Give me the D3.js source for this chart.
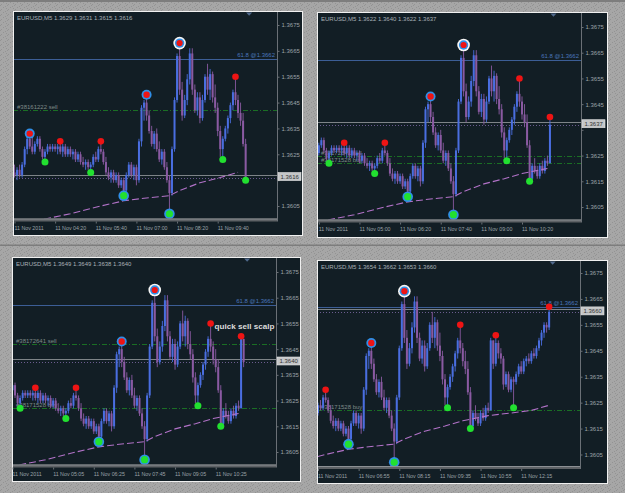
<!DOCTYPE html>
<html><head><meta charset="utf-8">
<script src="https://cdn.jsdelivr.net/npm/d3@7"></script>
<style>
html,body{margin:0;padding:0;background:#a4a4a4;}
svg{display:block;}
</style></head><body>
<script>
// ---------- DATA (EURUSD M5, 11 Nov 2011, bar 0 = 03:00) ----------
const opens = [
1.3618,1.3617,1.3619,1.3617,1.3621,1.3627,1.3631,1.3628,1.3626,1.3629,
1.3631,1.3627,1.3624,1.3626,1.3628,1.3627,1.3628,1.3627,1.3628,1.3626,
1.3628,1.3625,1.3627,1.3625,1.3626,1.3623,1.3625,1.3622,1.3621,1.3622,
1.3620,1.3621,1.3624,1.3623,1.3627,1.3626,1.3622,1.3618,1.3616,1.3618,
1.3615,1.3617,1.3613,1.3615,1.3611,1.3617,1.3621,1.3617,1.3620,1.3615,
1.3630,1.3643,1.3645,1.3640,1.3634,1.3629,1.3633,1.3627,1.3623,1.3626,
1.3620,1.3615,1.3610,1.3627,1.3646,1.3663,1.3650,1.3640,1.3646,1.3654,
1.3664,1.3650,1.3642,1.3647,1.3639,1.3646,1.3655,1.3650,1.3656,1.3647,
1.3643,1.3634,1.3627,1.3631,1.3635,1.3639,1.3644,1.3649,1.3646,1.3641,
1.3638,1.3629,1.3616,1.3621,1.3619,1.3617,1.3621,1.3619,1.3623,1.3622,
1.3649,1.3640,1.3648,1.3644,1.3642,1.3632,1.3636,1.3630,1.3634,1.3633,
1.3636,1.3639,1.3637,1.3641,1.3642,1.3641,1.3644,1.3643,1.3646,1.3649,
1.3652,1.3655,1.3654];
const highs = [
1.3621,1.3620,1.3621,1.3622,1.3628,1.3632,1.3633,1.3632,1.3630,1.3632,
1.3632,1.3628,1.3627,1.3629,1.3629,1.3629,1.3629,1.3629,1.3630,1.3629,
1.3629,1.3628,1.3628,1.3627,1.3627,1.3626,1.3626,1.3624,1.3623,1.3623,
1.3622,1.3625,1.3626,1.3628,1.3630,1.3627,1.3624,1.3620,1.3619,1.3619,
1.3618,1.3618,1.3616,1.3616,1.3618,1.3622,1.3622,1.3621,1.3621,1.3631,
1.3644,1.3646,1.3648,1.3642,1.3636,1.3634,1.3635,1.3630,1.3627,1.3627,
1.3622,1.3617,1.3628,1.3647,1.3664,1.3668,1.3653,1.3648,1.3656,1.3666,
1.3666,1.3652,1.3649,1.3649,1.3648,1.3656,1.3660,1.3658,1.3657,1.3652,
1.3645,1.3636,1.3632,1.3636,1.3640,1.3645,1.3650,1.3655,1.3648,1.3645,
1.3641,1.3631,1.3622,1.3624,1.3621,1.3622,1.3623,1.3624,1.3625,1.3650,
1.3649,1.3651,1.3649,1.3646,1.3643,1.3637,1.3637,1.3635,1.3635,1.3637,
1.3640,1.3641,1.3642,1.3643,1.3644,1.3645,1.3646,1.3647,1.3650,1.3653,
1.3656,1.3656,1.3662];
const lows = [
1.3616,1.3615,1.3616,1.3616,1.3620,1.3625,1.3627,1.3625,1.3625,1.3628,
1.3626,1.3623,1.3622,1.3625,1.3626,1.3626,1.3626,1.3625,1.3625,1.3624,
1.3624,1.3624,1.3624,1.3623,1.3622,1.3622,1.3621,1.3620,1.3619,1.3619,
1.3618,1.3620,1.3622,1.3622,1.3625,1.3621,1.3617,1.3615,1.3614,1.3614,
1.3614,1.3612,1.3612,1.3609,1.3610,1.3616,1.3616,1.3615,1.3613,1.3614,
1.3628,1.3638,1.3638,1.3633,1.3628,1.3627,1.3626,1.3622,1.3621,1.3619,
1.3614,1.3602,1.3609,1.3626,1.3645,1.3648,1.3638,1.3639,1.3644,1.3652,
1.3648,1.3641,1.3640,1.3637,1.3638,1.3645,1.3648,1.3646,1.3645,1.3641,
1.3632,1.3624,1.3623,1.3630,1.3633,1.3637,1.3642,1.3644,1.3639,1.3636,
1.3628,1.3615,1.3615,1.3618,1.3616,1.3616,1.3618,1.3618,1.3621,1.3622,
1.3638,1.3639,1.3642,1.3640,1.3630,1.3631,1.3629,1.3629,1.3623,1.3632,
1.3635,1.3636,1.3636,1.3639,1.3640,1.3640,1.3642,1.3642,1.3645,1.3647,
1.3650,1.3652,1.3653];
const closes = [
1.3617,1.3619,1.3617,1.3621,1.3627,1.3631,1.3628,1.3626,1.3629,1.3631,
1.3627,1.3624,1.3626,1.3628,1.3627,1.3628,1.3627,1.3628,1.3626,1.3628,
1.3625,1.3627,1.3625,1.3626,1.3623,1.3625,1.3622,1.3621,1.3622,1.3620,
1.3621,1.3624,1.3623,1.3627,1.3626,1.3622,1.3618,1.3616,1.3618,1.3615,
1.3617,1.3613,1.3615,1.3611,1.3617,1.3621,1.3617,1.3620,1.3615,1.3630,
1.3643,1.3645,1.3640,1.3634,1.3629,1.3633,1.3627,1.3623,1.3626,1.3620,
1.3615,1.3610,1.3627,1.3646,1.3663,1.3650,1.3640,1.3646,1.3654,1.3664,
1.3650,1.3642,1.3647,1.3639,1.3646,1.3655,1.3650,1.3656,1.3647,1.3643,
1.3634,1.3627,1.3631,1.3635,1.3639,1.3644,1.3649,1.3646,1.3641,1.3638,
1.3629,1.3616,1.3621,1.3619,1.3617,1.3621,1.3619,1.3623,1.3622,1.3649,
1.3640,1.3648,1.3644,1.3642,1.3632,1.3636,1.3630,1.3634,1.3633,1.3636,
1.3639,1.3637,1.3641,1.3642,1.3641,1.3644,1.3643,1.3646,1.3649,1.3652,
1.3655,1.3654,1.3660];

// slow moving average (sampled)
const maBars   = [0, 12, 22, 34, 43, 51, 61, 65, 73, 81, 88, 98, 107, 115, 122];
const maValues = [1.3598,1.3600,1.3602,1.3605,1.3607,1.3608,1.3609,1.3611,1.3614,1.3616,1.3618,1.3620,1.3621,1.3622,1.3624];

// zigzag swing points shared by all four snapshots
const swingBars   = [6, 12, 18, 30, 34, 43, 52, 61, 65, 82, 87, 91];
const swingPrices = [1.3633,1.3622,1.3630,1.3618,1.3630,1.3609,1.3648,1.3602,1.3668,1.3623,1.3655,1.3615];
const swingKinds  = ["R","g","r","g","r","G","R","G","W","g","r","g"];
// swing points that exist only in one snapshot
const extraSwingPanel  = [1, 2, 3, 3, 3];
const extraSwingBars   = [99, 99, 101, 108, 122];
const extraSwingPrices = [1.3640,1.3650,1.3651,1.3623,1.3662];
const extraSwingKinds  = ["r","r","r","g","r"];

// snapshot settings
const panelTitles = [
 "EURUSD,M5  1.3629 1.3631 1.3615 1.3616",
 "EURUSD,M5  1.3622 1.3640 1.3622 1.3637",
 "EURUSD,M5  1.3649 1.3649 1.3638 1.3640",
 "EURUSD,M5  1.3654 1.3662 1.3653 1.3660"];
const panelFirstBar = [0, 8, 9, 31];
const panelLastBar  = [91, 99, 100, 122];
const panelBid      = [1.3616, 1.3637, 1.3640, 1.3660];
const panelTickBars = [[0,16,32,48,64,80],[8,24,40,56,72,88],[9,25,41,57,73,89],[31,47,63,79,95,111]];
const panelTickLabels = [
 ["11 Nov 2011","11 Nov 04:20","11 Nov 05:40","11 Nov 07:00","11 Nov 08:20","11 Nov 09:40"],
 ["11 Nov 2011","11 Nov 05:00","11 Nov 06:20","11 Nov 07:40","11 Nov 09:00","11 Nov 10:20"],
 ["11 Nov 2011","11 Nov 05:05","11 Nov 06:25","11 Nov 07:45","11 Nov 09:05","11 Nov 10:25"],
 ["11 Nov 2011","11 Nov 06:55","11 Nov 08:15","11 Nov 09:35","11 Nov 10:55","11 Nov 12:15"]];
// the still-forming last bar of snapshot 2 (O,H,L,C)
const liveBarPanel = 1, liveBarIndex = 99;
const liveBarOHLC = [1.3622, 1.3640, 1.3622, 1.3637];

const priceTicks = [1.3675,1.3665,1.3655,1.3645,1.3635,1.3625,1.3615,1.3605];
const fibPrice = 1.3662, fibLabel = "61.8  @1.3662";
const tradePanel  = [0, 1, 1, 2, 2, 3];
const tradePrice  = [1.3642, 1.3625, 1.3622, 1.3647, 1.3622, 1.3622];
const tradeLabels = ["#38161222 sell","#38172641 sell","#38171528 buy","#38172641 sell","#38171528 buy","#38171528 buy"];
const noteText = "quick sell scalp", notePanel = 2, noteBar = 87, notePrice = 1.3653;

// ---------- LAYOUT ----------
const W = 625, H = 493;
const layout = [
 {fx:13,  fy:11,  fw:289, fh:224, axisX:277, bottomY:218.5, x0:14.5,  yTop:25,  yBot:206},
 {fx:317, fy:12,  fw:290, fh:225, axisX:581, bottomY:219.5, x0:318.8, yTop:27,  yBot:207},
 {fx:12,  fy:257, fw:288, fh:224, axisX:276, bottomY:464.5, x0:12.5,  yTop:272, yBot:452},
 {fx:317, fy:260, fw:290, fh:223, axisX:580, bottomY:466,   x0:318,   yTop:273, yBot:454.5}
];
const BG = "#121e25", BULL = "#4a6ee0", BEAR = "#8a5aa2", AXC = "#6a7076", TXT = "#9ba2a8";
const FONT = "'Liberation Sans', Arial, sans-serif";

const svg = d3.select("body").append("svg").attr("width", W).attr("height", H);
const defs = svg.append("defs");
const pat = defs.append("pattern").attr("id","speck").attr("width",7).attr("height",5).attr("patternUnits","userSpaceOnUse");
pat.append("rect").attr("width",7).attr("height",5).attr("fill","#a6a6a6");
[[0,0],[3,2],[1,4],[5,1],[6,3]].forEach(([a,b]) => pat.append("rect").attr("x",a).attr("y",b).attr("width",1).attr("height",1).attr("fill","#939393"));
svg.append("rect").attr("width",W).attr("height",H).attr("fill","url(#speck)");
svg.append("rect").attr("x",0).attr("y",0).attr("width",W).attr("height",2).attr("fill","#7d7d7d");
svg.append("rect").attr("x",0).attr("y",244.5).attr("width",W).attr("height",1.5).attr("fill","#7d7d7d");

function marker(g, cx, cy, kind) {
  const c = (r, f) => g.append("circle").attr("cx",cx).attr("cy",cy).attr("r",r).attr("fill",f);
  if (kind === "W") { c(6.3,"#f6f6f6"); c(4.7,"#2f8fe8"); c(3.1,"#ee1414"); }
  else if (kind === "R") { c(5,"#2f8fe8"); c(3.2,"#ee1414"); }
  else if (kind === "G") { c(5.3,"#2f8fe8"); c(3.6,"#22e030"); }
  else if (kind === "r") { c(3.3,"#ee1414"); }
  else { c(3.5,"#22e030"); }
}

layout.forEach((L, p) => {
  const g = svg.append("g");
  const first = panelFirstBar[p], last = panelLastBar[p];
  const x = d3.scaleLinear().domain([first, first + 100]).range([L.x0, L.x0 + 254]);
  const y = d3.scaleLinear().domain([1.3605, 1.3675]).range([L.yBot, L.yTop]);

  g.append("rect").attr("x",L.fx+0.5).attr("y",L.fy+0.5).attr("width",L.fw).attr("height",L.fh)
    .attr("fill",BG).attr("stroke","#f0f0f0").attr("stroke-width",1);

  const cid = "clip" + p;
  defs.append("clipPath").attr("id",cid).append("rect")
    .attr("x",L.fx+1).attr("y",L.fy+1).attr("width",L.axisX-L.fx-1).attr("height",L.bottomY-L.fy-1);
  const plot = g.append("g").attr("clip-path","url(#"+cid+")");

  // fibonacci level
  plot.append("line").attr("x1",L.fx).attr("x2",L.axisX).attr("y1",Math.round(y(fibPrice))+0.5).attr("y2",Math.round(y(fibPrice))+0.5)
    .attr("stroke","#3c5e96").attr("stroke-width",1);
  plot.append("text").attr("x",L.axisX-2).attr("y",y(fibPrice)-2).attr("text-anchor","end")
    .attr("font-family",FONT).attr("font-size",6).attr("fill","#4a76bc").text(fibLabel);

  // trade lines
  tradePanel.forEach((tp, i) => {
    if (tp !== p) return;
    const yy = Math.round(y(tradePrice[i])) + 0.5;
    plot.append("line").attr("x1",L.fx).attr("x2",L.axisX).attr("y1",yy).attr("y2",yy)
      .attr("stroke","#1a6e24").attr("stroke-width",1).attr("stroke-dasharray","5,2,1,2");
    plot.append("text").attr("x",L.fx+4).attr("y",yy-2).attr("font-family",FONT).attr("font-size",6)
      .attr("fill","#7f8a88").text(tradeLabels[i]);
  });

  // bid / ask lines
  const by = y(panelBid[p]);
  plot.append("line").attr("x1",L.fx).attr("x2",L.axisX).attr("y1",Math.round(by-2.7)+0.5).attr("y2",Math.round(by-2.7)+0.5)
    .attr("stroke","#7e8488").attr("stroke-width",1);
  plot.append("line").attr("x1",L.fx).attr("x2",L.axisX).attr("y1",Math.round(by)+0.5).attr("y2",Math.round(by)+0.5)
    .attr("stroke","#6a5c8e").attr("stroke-width",1).attr("stroke-dasharray","1,2");

  // candles
  const bars = d3.range(Math.max(0, first - 1), last + 1).map(i => {
    if (p === liveBarPanel && i === liveBarIndex)
      return {i, o: liveBarOHLC[0], h: liveBarOHLC[1], l: liveBarOHLC[2], c: liveBarOHLC[3]};
    return {i, o: opens[i], h: highs[i], l: lows[i], c: closes[i]};
  });
  const cg = plot.append("g");
  cg.selectAll("line.w").data(bars).join("line").attr("class","w")
    .attr("x1", d => x(d.i)).attr("x2", d => x(d.i)).attr("y1", d => y(d.h)).attr("y2", d => y(d.l))
    .attr("stroke", d => d.c >= d.o ? BULL : BEAR).attr("stroke-width", 0.9);
  cg.selectAll("rect.b").data(bars).join("rect").attr("class","b")
    .attr("x", d => x(d.i) - 1).attr("width", 2)
    .attr("y", d => Math.min(y(d.o), y(d.c))).attr("height", d => Math.max(0.9, Math.abs(y(d.o) - y(d.c))))
    .attr("fill", d => d.c >= d.o ? BULL : BEAR);

  // moving average
  const ma = maBars.map((b, k) => ({b, v: maValues[k]})).filter(d => d.b <= last);
  plot.append("path").datum(ma)
    .attr("d", d3.line().x(d => x(d.b)).y(d => y(d.v)))
    .attr("fill","none").attr("stroke","#b272c8").attr("stroke-width",1.1).attr("stroke-dasharray","7,3");

  // zigzag markers
  const mg = g.append("g");
  swingBars.forEach((b, k) => { if (b >= first && b <= last) marker(mg, x(b), y(swingPrices[k]), swingKinds[k]); });
  extraSwingPanel.forEach((sp, k) => { if (sp === p) marker(mg, x(extraSwingBars[k]), y(extraSwingPrices[k]), extraSwingKinds[k]); });

  // note
  if (p === notePanel) {
    g.append("text").attr("x", x(noteBar) + 4).attr("y", y(notePrice)).attr("font-family",FONT)
      .attr("font-size",8.1).attr("font-weight","bold").attr("fill","#dcdcdc").text(noteText);
  }

  // chart shift marker
  const sx = x(last) + 3.5;
  g.append("path").attr("d", `M${sx-3},${L.fy+1.5} L${sx+3},${L.fy+1.5} L${sx},${L.fy+4.8} Z`).attr("fill","#50698c");

  // title
  g.append("text").attr("x",L.fx+4).attr("y",L.fy+8.5).attr("font-family",FONT).attr("font-size",6)
    .attr("fill","#a9b0b6").text(panelTitles[p]);

  // bottom separator
  g.append("rect").attr("x",L.fx+1).attr("y",L.bottomY).attr("width",L.axisX-L.fx-1).attr("height",3).attr("fill","#5e6266");
  g.append("rect").attr("x",L.fx+1).attr("y",L.bottomY).attr("width",L.axisX-L.fx-1).attr("height",1).attr("fill","#8c9094");

  // price axis (labels hidden where the bid box covers them)
  g.append("line").attr("x1",L.axisX+0.5).attr("x2",L.axisX+0.5).attr("y1",L.fy+1).attr("y2",L.bottomY+3)
    .attr("stroke",AXC).attr("stroke-width",1);
  const ya = g.append("g").attr("transform",`translate(${L.axisX+0.5},0)`)
    .call(d3.axisRight(y).tickValues(priceTicks).tickFormat(d3.format(".4f")).tickSize(2).tickPadding(2));
  ya.select(".domain").remove();
  ya.selectAll("line").attr("stroke",AXC);
  ya.selectAll("text").attr("font-family",FONT).attr("font-size",6).attr("fill",TXT);
  ya.selectAll(".tick").filter(d => Math.abs(y(d) - (by - 1)) < 7.5).select("text").remove();

  // bid price box
  g.append("rect").attr("x",L.axisX+1).attr("y",by-5).attr("width",23).attr("height",8)
    .attr("fill","#c4c6c8").attr("stroke","#e4e4e4").attr("stroke-width",0.6);
  g.append("text").attr("x",L.axisX+3.5).attr("y",by+1.2).attr("font-family",FONT).attr("font-size",6)
    .attr("fill","#333").text(d3.format(".4f")(panelBid[p]));

  // time axis
  const xa = g.append("g").attr("transform",`translate(0,${L.bottomY+3})`)
    .call(d3.axisBottom(x).tickValues(panelTickBars[p]).tickFormat((d, i) => panelTickLabels[p][i]).tickSize(2).tickPadding(3));
  xa.select(".domain").remove();
  xa.selectAll("line").attr("stroke",AXC);
  xa.selectAll("text").attr("text-anchor","start").attr("x",-0.5).attr("font-family",FONT).attr("font-size",5.3).attr("fill",TXT);
});
</script>
</body></html>
